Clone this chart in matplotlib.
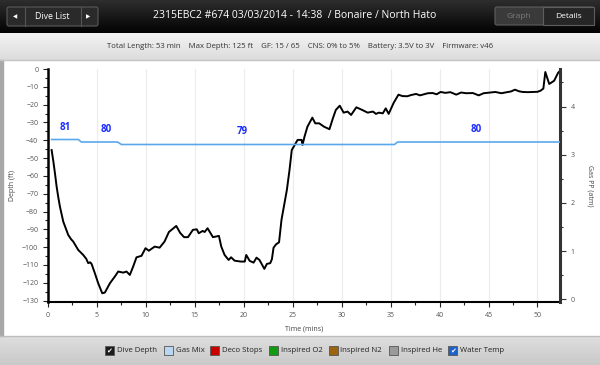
import matplotlib
matplotlib.use("Agg")
import matplotlib.pyplot as plt
import numpy as np
from matplotlib.patches import Rectangle, FancyBboxPatch

plt.rcParams['font.family'] = ['Open Sans', 'DejaVu Sans']

# dive profile (minutes, feet)
time_min = [0.37, 0.55, 0.71, 0.88, 1.05, 1.22, 1.56, 2.07, 2.35, 2.58, 3.09, 3.6, 3.9, 4.11, 4.3,
            4.45, 4.79, 5.13, 5.54, 5.81, 6.32, 6.83, 7.17, 7.68, 8.02, 8.36, 8.7, 9.04, 9.55,
            9.96, 10.3, 10.9, 11.4, 11.9, 12.35, 13.1, 13.5, 13.9, 14.3, 14.8, 15.2, 15.4, 15.8,
            16.0, 16.3, 16.85, 17.46, 17.7, 18.04, 18.45, 18.7, 19.06, 19.7, 20.1, 20.25, 20.6,
            21.0, 21.3, 21.6, 22.1, 22.36, 22.7, 22.87, 23.04, 23.3, 23.6, 23.85, 24.16, 24.4,
            24.67, 24.9, 25.2, 25.5, 25.9, 26.0, 26.2, 26.5, 27.0, 27.3, 27.7, 28.2, 28.75, 29.1,
            29.4, 29.8, 30.2, 30.6, 30.96, 31.5, 32.1, 32.65, 33.2, 33.5, 33.8, 34.2, 34.5, 34.8,
            35.3, 35.8, 36.2, 36.7, 37.1, 37.6, 38.0, 38.4, 38.8, 39.3, 39.7, 40.1, 40.6, 41.1,
            41.7, 42.2, 42.7, 43.4, 44.0, 44.5, 45.0, 45.7, 46.3, 46.9, 47.3, 47.7, 48.1, 48.5,
            49.0, 49.5, 50.0, 50.3, 50.6, 50.8, 51.2, 51.7, 52.1, 52.3]
depth_ft = [-45.5, -52, -58.5, -66, -72, -77.3, -85.7, -93.2, -95.5, -96.9, -101.6, -104.4, -106.5,
            -109, -108.5, -109.4, -114.7, -120.3, -125.9, -125.5, -120.3, -116.5, -113.7, -114.3,
            -113.7, -115.6, -110.9, -105.7, -104.9, -100.6, -102, -99.7, -100.3, -96.9, -91.5,
            -88.1, -92, -94.4, -94.4, -90.3, -90, -92.2, -90.9, -91.5, -89.4, -94.4, -93.7, -99.7,
            -104.4, -107.2, -105.7, -107.6, -108.1, -108.1, -104.4, -107.7, -108.7, -105.9, -107.2,
            -112.2, -109.4, -109, -106.8, -100.3, -98.4, -97.3, -84.7, -75.4, -67.9, -56.7, -45.5,
            -42.6, -39.8, -39.8, -42.6, -38, -32.4, -27.3, -30.5, -30.5, -32.4, -33.8, -27.7, -23,
            -20.6, -24.5, -23.9, -25.8, -21.5, -23, -24.5, -23.9, -25.2, -24.5, -24.9, -22.1,
            -25.2, -19.1, -14.4, -15.2, -15.3, -14.6, -14, -14.8, -14.2, -13.6, -13.5, -14.2,
            -12.9, -13.4, -13.0, -14.4, -13.2, -13.6, -13.5, -14.8, -13.6, -13.3, -12.9, -13.6,
            -13.0, -12.6, -11.6, -12.5, -12.9, -13.0, -12.9, -12.8, -12.2, -11, -1.7, -8.4, -6.6,
            -2.2, -1.0]

# water temperature (F)
temp_time = [0.37, 3.1, 3.4, 7.1, 7.5, 35.4, 35.7, 52.3]
temp_f = [81, 81, 80, 80, 79, 79, 80, 80]
temp_label_time = [1.8, 5.9, 19.8, 43.7]
temp_label_val = [81, 80, 79, 80]

title = "2315EBC2 #674 03/03/2014 - 14:38  / Bonaire / North Hato"
info = ("Total Length: 53 min    Max Depth: 125 ft    GF: 15 / 65    CNS: 0% to 5%    "
        "Battery: 3.5V to 3V    Firmware: v46")
legend_names = ["Dive Depth", "Gas Mix", "Deco Stops", "Inspired O2", "Inspired N2",
                "Inspired He", "Water Temp"]
legend_colors = ["#1c1c1c", "#b9d7f2", "#c80000", "#129a12", "#9a6410", "#9a9a9a", "#1f62c9"]
legend_checked = [True, False, False, False, False, False, True]

W, H = 600, 365
fig = plt.figure(figsize=(6, 3.65), dpi=100, facecolor="white")

# ---- page chrome in pixel coords
bg = fig.add_axes([0, 0, 1, 1], zorder=0)
bg.set_xlim(0, W)
bg.set_ylim(H, 0)
bg.axis("off")


def vgrad(ax, x0, x1, y0, y1, c0, c1):
    c0 = np.array(matplotlib.colors.to_rgb(c0))
    c1 = np.array(matplotlib.colors.to_rgb(c1))
    f = np.linspace(0, 1, 64)[:, None, None]
    img = c0 * (1 - f) + c1 * f
    ax.imshow(img, extent=(x0, x1, y1, y0), aspect="auto", interpolation="bilinear", zorder=0)


vgrad(bg, 0, W, 0, 33, "#2e2e2e", "#020202")
vgrad(bg, 0, W, 33, 60, "#f3f3f3", "#dcdcdc")
bg.plot([0, W], [60, 60], color="#c4c4c4", lw=1)
vgrad(bg, 0, W, 336, H, "#dedede", "#c9c9c9")
bg.plot([0, W], [336, 336], color="#bdbdbd", lw=1)
bg.add_patch(Rectangle((0, 60), 2.5, 276, color="#a8a8a8", zorder=1))
bg.set_xlim(0, W)
bg.set_ylim(H, 0)

# buttons
bg.add_patch(FancyBboxPatch((7, 7), 91, 19, boxstyle="round,pad=0,rounding_size=2",
                            fc="#2a2a2a", ec="#5a5a5a", lw=0.8, zorder=2))
bg.plot([25, 25], [7, 26], color="#555555", lw=0.8, zorder=3)
bg.plot([81, 81], [7, 26], color="#555555", lw=0.8, zorder=3)
bg.text(15.5, 16.5, "\u25c0", color="white", fontsize=4, ha="center", va="center",
        family="DejaVu Sans", zorder=4)
bg.text(88.5, 16.5, "\u25b6", color="white", fontsize=4, ha="center", va="center",
        family="DejaVu Sans", zorder=4)
bg.text(52, 16.5, "Dive List", color="white", fontsize=6.3, ha="center", va="center", zorder=4)
bg.add_patch(FancyBboxPatch((495, 7), 99, 18, boxstyle="round,pad=0,rounding_size=2",
                            fc="#3a3a3a", ec="#5e5e5e", lw=0.8, zorder=2))
bg.add_patch(Rectangle((543, 7), 51, 18, fc="#262626", ec="#5e5e5e", lw=0.8, zorder=3))
bg.text(519, 16, "Graph", color="#7a7a7a", fontsize=6, ha="center", va="center", zorder=4)
bg.text(568, 16, "Details", color="white", fontsize=6, ha="center", va="center", zorder=4)
bg.text(295, 16, title, color="white", fontsize=7.5, ha="center", va="center", zorder=4)
bg.text(300, 46, info, color="#333333", fontsize=5.6, ha="center", va="center", zorder=4)

# legend row
lx = [109.5, 168.4, 214.3, 273.6, 333.0, 393.4, 452.7]
for x, name, col, chk in zip(lx, legend_names, legend_colors, legend_checked):
    bg.add_patch(Rectangle((x - 4.5, 345.5), 9, 9, fc=col, ec="#555555", lw=0.6, zorder=3))
    if chk:
        bg.text(x, 350.3, "\u2714", color="white", fontsize=5, ha="center", va="center",
                family="DejaVu Sans", zorder=4)
    bg.text(x + 7.5, 350.3, name, color="#222222", fontsize=5.6, ha="left", va="center", zorder=4)

# ---- chart
ax = fig.add_axes([48 / W, 1 - 302 / H, 512 / W, 233 / H], zorder=2)
ax.patch.set_alpha(0)
ax.plot(time_min, depth_ft, color="black", lw=1.4, zorder=5)
ax.set_xlim(0, 52.3)
ax.set_ylim(-130.8, 0)
ax.set_xticks(np.arange(0, 51, 5))
ax.set_xticks(np.arange(0, 52.3, 2.5), minor=True)
ax.set_yticks(np.arange(-130, 1, 10))
ax.set_yticks(np.arange(-130, 1, 5), minor=True)
ax.grid(axis="x", which="major", color="#ececec", lw=0.8)
ax.set_axisbelow(True)
ax.tick_params(which="both", labelsize=5, labelcolor="#555555", color="#222222", width=0.8)
ax.tick_params(which="major", length=3.5)
ax.tick_params(which="minor", length=2.5)
ax.spines["top"].set_visible(False)
ax.spines["left"].set_linewidth(1.8)
ax.spines["bottom"].set_linewidth(1.5)
ax.spines["right"].set_visible(False)
ax.set_xlabel("Time (mins)", fontsize=5, color="#444444", labelpad=5)
ax.set_ylabel("Depth (ft)", fontsize=5, color="#444444", labelpad=4)

gas = ax.twinx()
gas.set_ylim(-0.056, 4.78)
gas.set_yticks(np.arange(0, 5, 1))
gas.set_yticks(np.arange(0, 4.6, 0.5), minor=True)
gas.tick_params(which="both", labelsize=5, labelcolor="#555555", color="#333333", width=0.8)
gas.tick_params(which="major", length=4)
gas.tick_params(which="minor", length=2.5)
gas.spines["top"].set_visible(False)
gas.spines["left"].set_visible(False)
gas.spines["bottom"].set_visible(False)
gas.spines["right"].set_linewidth(2.2)
gas.spines["right"].set_color("#333333")
gas.set_ylabel("Gas PP (atm)", fontsize=5, color="#444444", rotation=270, labelpad=14)

tmp = ax.twinx()
tmp.set_ylim(16, 109.2)
tmp.axis("off")
tmp.plot(temp_time, temp_f, color="#5aa8ec", lw=1.2, zorder=4)
for t, v in zip(temp_label_time, temp_label_val):
    tmp.annotate(str(v), xy=(t, v), xytext=(0, 9), textcoords="offset points",
                 ha="center", va="center", fontsize=7, fontweight="bold", color="#1a2cff")

fig.savefig("out.png", dpi=100, facecolor="white")
